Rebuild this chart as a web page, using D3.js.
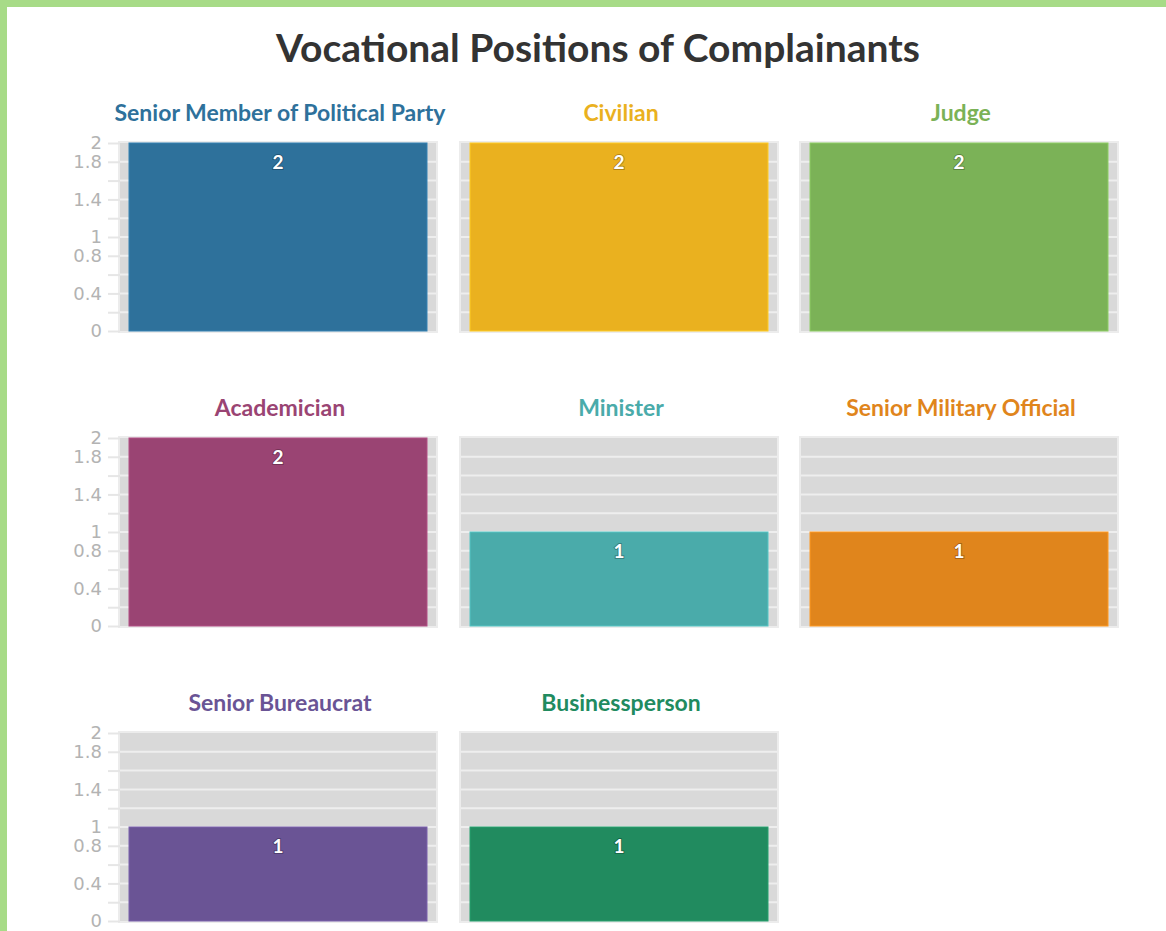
<!DOCTYPE html>
<html>
<head>
<meta charset="utf-8">
<script src="https://cdn.jsdelivr.net/npm/d3@7"></script>
<style>
  html, body { margin: 0; padding: 0; background: #fff; }
  body { width: 1166px; height: 931px; overflow: hidden; }
  svg { display: block; }
  .tick text { font-family: "DejaVu Sans", sans-serif; }
</style>
</head>
<body>
<svg id="chart"></svg>
<script>
// Data
const categories = ["Senior Member of Political Party", "Civilian", "Judge",
  "Academician", "Minister", "Senior Military Official",
  "Senior Bureaucrat", "Businessperson"];
const counts = [2, 2, 2, 2, 1, 1, 1, 1];
const colors = ["#2e719b", "#eab11f", "#7bb257", "#9a4473",
  "#4aabaa", "#e0851c", "#6a5495", "#218b5f"];
const tickLabels = [0, 0.4, 0.8, 1, 1.4, 1.8, 2];
const tickMarks = d3.range(0, 2.01, 0.2).map(d => +d.toFixed(1));

// Layout
const W = 1166, H = 931,
      cols = 3,
      plotW = 316, plotH = 188,
      colX = [120, 461, 801],
      rowY = [143, 438, 733];

const svg = d3.select("#chart").attr("width", W).attr("height", H);

// green frame
svg.append("rect").attr("x", 0).attr("y", 0).attr("width", W).attr("height", 7).attr("fill", "#a7db87");
svg.append("rect").attr("x", 0).attr("y", 0).attr("width", 7).attr("height", H).attr("fill", "#a7db87");

svg.append("text")
  .attr("x", 598).attr("y", 62)
  .attr("text-anchor", "middle")
  .style("font", "bold 39px Lato, sans-serif")
  .attr("fill", "#333")
  .text("Vocational Positions of Complainants");

const y = d3.scaleLinear().domain([0, 2]).range([plotH, 0]);

categories.forEach((name, i) => {
  const col = i % cols, row = Math.floor(i / cols);
  const g = svg.append("g").attr("transform", `translate(${colX[col]},${rowY[row]})`);
  const x = d3.scaleBand().domain([name]).range([0, plotW]).paddingInner(0).paddingOuter(0.0302);

  // background
  g.append("rect")
    .attr("x", -1).attr("y", -1)
    .attr("width", plotW + 2).attr("height", plotH + 2)
    .attr("fill", "#d9d9d9")
    .attr("stroke", "#ececec").attr("stroke-width", 2);

  // gridlines
  g.selectAll(".grid")
    .data(tickMarks.filter(d => d > 0 && d < 2))
    .enter().append("line")
      .attr("x1", 0).attr("x2", plotW)
      .attr("y1", d => y(d)).attr("y2", d => y(d))
      .attr("stroke", "#eeeeee").attr("stroke-width", 2);

  // axis, only on the first column
  if (col === 0) {
    const axis = d3.axisLeft(y)
      .tickValues(tickMarks)
      .tickSize(12)
      .tickPadding(6)
      .tickFormat(d => tickLabels.includes(d) ? d3.format("~g")(d) : "");
    const ag = g.append("g").call(axis);
    ag.select(".domain").remove();
    ag.selectAll(".tick line").attr("stroke", "#e6e6e6").attr("stroke-width", 2);
    ag.selectAll(".tick text")
      .attr("fill", "#b3b3b3")
      .style("font-size", "18px");
  }

  // bar
  g.append("rect")
    .attr("x", x(name))
    .attr("y", y(counts[i]))
    .attr("width", x.bandwidth())
    .attr("height", y(0) - y(counts[i]))
    .attr("fill", colors[i])
    .attr("stroke", d3.color(colors[i]).brighter(0.4))
    .attr("stroke-width", 1);

  // value label
  g.append("text")
    .attr("x", x(name) + x.bandwidth() / 2)
    .attr("y", y(counts[i]) + 26)
    .attr("text-anchor", "middle")
    .style("font", "bold 19px Lato, sans-serif")
    .attr("fill", "#fff")
    .attr("stroke", "rgba(0,0,0,0.25)")
    .attr("stroke-width", 2)
    .attr("paint-order", "stroke")
    .text(counts[i]);

  // panel title
  g.append("text")
    .attr("x", plotW / 2 + 2)
    .attr("y", -22)
    .attr("text-anchor", "middle")
    .style("font", "bold 23px Lato, sans-serif")
    .attr("fill", colors[i])
    .text(name);
});
</script>
</body>
</html>
